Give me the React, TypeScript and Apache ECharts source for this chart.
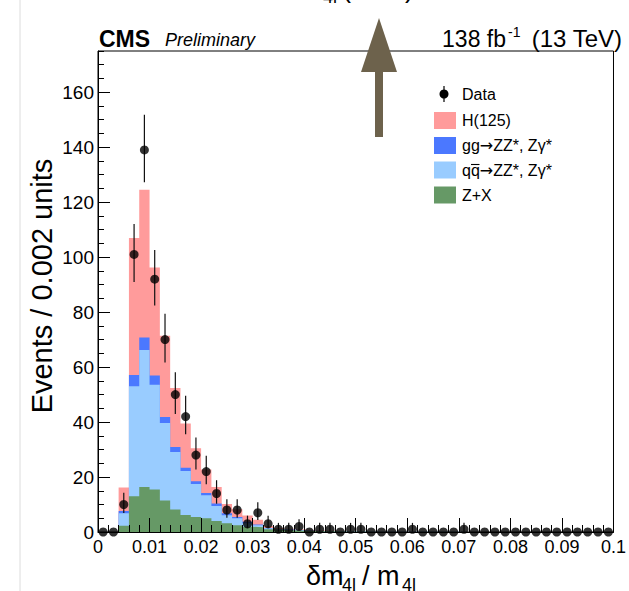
import React, { useEffect, useRef } from 'react';
import * as echarts from 'echarts';

// ---------------- data ----------------
const binWidth = 0.002;
const xTickLabels = ['0', '0.01', '0.02', '0.03', '0.04', '0.05', '0.06', '0.07', '0.08', '0.09', '0.1'];
const yTickLabels = ['0', '20', '40', '60', '80', '100', '120', '140', '160'];

// observed events per bin (bins of 0.002 from 0 to 0.1)
const dataCounts = [
  0, 0, 10, 101, 139, 92, 70, 50, 42, 28,
  22, 14, 8, 8, 3, 7, 3, 1, 1, 2,
  0, 1, 1, 0, 1, 1, 0, 0, 0, 0,
  1, 0, 0, 0, 0, 1, 0, 0, 0, 0,
  0, 0, 0, 0, 0, 0, 0, 0, 0, 0,
];
// Z+X
const zxYield = [
  0, 0, 2.3, 13.0, 16.4, 15.5, 11.5, 8.2, 6.2, 5.5,
  5.0, 4.0, 3.2, 2.5, 1.9, 1.7, 1.0, 0.8, 0.6, 0.5,
  0.4, 0.3, 0.3, 0.2, 0.2, 0.15, 0.1, 0.1, 0.1, 0.1,
  0.05, 0.05, 0.05, 0.05, 0.05, 0, 0, 0, 0, 0,
  0, 0, 0, 0, 0, 0, 0, 0, 0, 0,
];
// qq -> ZZ*, Zgamma*
const qqzzYield = [
  0, 0, 4.5, 40.0, 49.8, 38.1, 28.2, 20.9, 16.0, 12.0,
  8.4, 5.5, 2.9, 2.5, 1.3, 0.8, 0.4, 0.2, 0.2, 0.1,
  0.1, 0.1, 0.05, 0.05, 0, 0, 0, 0, 0, 0,
  0, 0, 0, 0, 0, 0, 0, 0, 0, 0,
  0, 0, 0, 0, 0, 0, 0, 0, 0, 0,
];
// gg -> ZZ*, Zgamma*
const ggzzYield = [
  0, 0, 0.8, 4.1, 4.6, 3.3, 2.1, 1.8, 1.2, 1.0,
  0.8, 0.9, 0.7, 0.5, 0.5, 0.2, 0.1, 0.1, 0.1, 0.05,
  0, 0, 0, 0, 0, 0, 0, 0, 0, 0,
  0, 0, 0, 0, 0, 0, 0, 0, 0, 0,
  0, 0, 0, 0, 0, 0, 0, 0, 0, 0,
];
// H(125)
const higgsYield = [
  0, 0, 8.6, 49.9, 53.7, 39.3, 29.6, 21.5, 16.1, 12.0,
  8.5, 6.0, 3.4, 2.8, 2.3, 1.8, 0.7, 0.4, 0.3, 0.25,
  0.2, 0.15, 0.1, 0.08, 0.05, 0, 0, 0, 0, 0,
  0, 0, 0, 0, 0, 0, 0, 0, 0, 0,
  0, 0, 0, 0, 0, 0, 0, 0, 0, 0,
];

// ---------------- helpers ----------------
const FONT = '"Liberation Sans", Arial, Helvetica, sans-serif';
const COLORS = { h: '#ff9b9b', gg: '#4b78ff', qq: '#99ccff', zx: '#669966' };

const cumulate = (...arrs: number[][]) =>
  arrs[0].map((_, i) => arrs.reduce((s, a) => s + a[i], 0));

const cumZX = cumulate(zxYield);
const cumQQ = cumulate(zxYield, qqzzYield);
const cumGG = cumulate(zxYield, qqzzYield, ggzzYield);
const cumTot = cumulate(zxYield, qqzzYield, ggzzYield, higgsYield);

const stepData = (cum: number[]) => {
  const pts: number[][] = [];
  for (let i = 0; i <= cum.length; i++) {
    pts.push([i * binWidth, cum[Math.min(i, cum.length - 1)]]);
  }
  return pts;
};

const stackSeries = (name: string, cum: number[], color: string) => ({
  name,
  type: 'line',
  step: 'end',
  data: stepData(cum),
  symbol: 'none',
  lineStyle: { width: 0, opacity: 0 },
  areaStyle: { color, opacity: 1 },
  z: 2,
  silent: true,
});

const pointData = dataCounts.map((n, i) => [(i + 0.5) * binWidth, n]);
const errData = dataCounts.map((n, i) => {
  const lo = n > 0 ? n - Math.sqrt(n - 0.25) : 0;
  const hi = n > 0 ? n + 1 + Math.sqrt(n + 0.75) : 0;
  return [(i + 0.5) * binWidth, lo, hi];
});

const text = (
  t: string,
  x: number,
  y: number,
  size: number,
  opts: { align?: string; bold?: boolean; italic?: boolean; rotation?: number; rich?: any } = {}
) => ({
  type: 'text',
  x,
  y,
  rotation: opts.rotation || 0,
  z: 50,
  silent: true,
  style: {
    text: t,
    fill: '#000',
    fontSize: size,
    fontFamily: FONT,
    fontWeight: opts.bold ? 'bold' : 'normal',
    fontStyle: opts.italic ? 'italic' : 'normal',
    align: opts.align || 'left',
    textAlign: opts.align || 'left',
    verticalAlign: 'middle',
    textVerticalAlign: 'middle',
    ...(opts.rich ? { rich: opts.rich } : {}),
  },
});

const rect = (x: number, y: number, w: number, h: number, color: string) => ({
  type: 'rect',
  shape: { x, y, width: w, height: h },
  style: { fill: color },
  z: 50,
  silent: true,
});

const line = (x1: number, y1: number, x2: number, y2: number, color: string, w: number) => ({
  type: 'line',
  shape: { x1, y1, x2, y2 },
  style: { stroke: color, lineWidth: w },
  z: 50,
  silent: true,
});

const arrowRich = {
  a: { fontFamily: '"DejaVu Sans", sans-serif', fontSize: 16, fill: '#000', color: '#000' },
};

export default function App() {
  const ref = useRef<HTMLDivElement>(null);

  useEffect(() => {
    if (!ref.current) return;
    const chart = echarts.init(ref.current, undefined, { renderer: 'svg' });

    const option: any = {
      animation: false,
      backgroundColor: '#ffffff',
      grid: {
        left: 98,
        right: 9.5,
        top: 51,
        bottom: 59,
        show: true,
        borderColor: '#000',
        borderWidth: 1,
        backgroundColor: 'transparent',
      },
      xAxis: {
        type: 'value',
        min: 0,
        max: 0.1,
        interval: 0.01,
        z: 3,
        axisLine: { show: true, onZero: false, lineStyle: { color: '#000', width: 1 } },
        axisTick: { show: true, inside: true, length: 14, lineStyle: { color: '#000', width: 1 } },
        minorTick: { show: true, splitNumber: 5, length: 7, lineStyle: { color: '#000', width: 1 } },
        axisLabel: {
          margin: 6,
          fontSize: 18,
          fontFamily: FONT,
          color: '#000',
          formatter: (v: number) => xTickLabels[Math.round(v / 0.01)] ?? '',
        },
        splitLine: { show: false },
        minorSplitLine: { show: false },
      },
      yAxis: [
        {
          type: 'value',
          min: 0,
          max: 175,
          interval: 20,
          position: 'left',
          z: 3,
          axisLine: { show: true, onZero: false, lineStyle: { color: '#000', width: 1 } },
          axisTick: { show: true, inside: true, length: 12, lineStyle: { color: '#000', width: 1 } },
          axisLabel: {
            margin: 4,
            fontSize: 19,
            fontFamily: FONT,
            color: '#000',
            showMaxLabel: false,
            formatter: (v: number) => yTickLabels[Math.round(v / 20)] ?? '',
          },
          splitLine: { show: false },
        },
        {
          type: 'value',
          min: 0,
          max: 175,
          interval: 5,
          position: 'left',
          z: 3,
          axisLine: { show: false },
          axisTick: { show: true, inside: true, length: 6, lineStyle: { color: '#000', width: 1 } },
          axisLabel: { show: false },
          splitLine: { show: false },
        },
      ],
      series: [
        stackSeries('H(125)', cumTot, COLORS.h),
        stackSeries('gg→ZZ*, Zγ*', cumGG, COLORS.gg),
        stackSeries('qq→ZZ*, Zγ*', cumQQ, COLORS.qq),
        stackSeries('Z+X', cumZX, COLORS.zx),
        {
          name: 'Data errors',
          type: 'custom',
          data: errData,
          encode: { x: 0, y: [1, 2] },
          z: 9,
          silent: true,
          clip: false,
          renderItem: (params: any, api: any) => {
            const x = api.value(0);
            const lo = api.value(1);
            const hi = api.value(2);
            if (!(hi > lo)) return null;
            const p1 = api.coord([x, lo]);
            const p2 = api.coord([x, hi]);
            return {
              type: 'line',
              shape: { x1: p1[0], y1: p1[1], x2: p2[0], y2: p2[1] },
              style: { stroke: '#111', lineWidth: 1.2 },
            };
          },
        },
        {
          name: 'Data',
          type: 'scatter',
          data: pointData,
          symbol: 'circle',
          symbolSize: 9,
          itemStyle: { color: '#000' },
          z: 10,
          clip: false,
          silent: true,
        },
      ],
      graphic: [
        // faint border at left of the image
        line(20, 0, 20, 591, '#dcdcdc', 1),
        // header texts
        text('CMS', 99, 38.5, 23, { bold: true }),
        text('Preliminary', 165, 40, 18, { italic: true }),
        text('138 fb', 506, 38.6, 23, { align: 'right' }),
        text('-1', 508, 31.5, 14),
        text('(13 TeV)', 622, 38.6, 24, { align: 'right' }),
        // clipped label at the very top
        text('m', 300, -12.5, 27),
        text('4l', 323, -3.3, 18),
        text('(GeV)', 342, -12.5, 27),
        // arrow
        {
          type: 'polygon',
          shape: {
            points: [
              [379, 18],
              [397, 72],
              [383, 72],
              [383, 137],
              [375, 137],
              [375, 72],
              [361, 72],
            ],
          },
          style: { fill: '#6d624c' },
          z: 60,
          silent: true,
        },
        // y axis title
        text('Events / 0.002 units', 42, 286, 29, { align: 'center', rotation: Math.PI / 2 }),
        // x axis title
        text('δm', 306, 575.5, 27),
        text('4l', 342, 584.5, 18),
        text('/ m', 362, 575.5, 27),
        text('4l', 402, 584.5, 18),
        // legend
        line(444, 86, 444, 102, '#000', 1.2),
        { type: 'circle', shape: { cx: 444, cy: 94, r: 4.5 }, style: { fill: '#000' }, z: 50, silent: true },
        text('Data', 462, 94, 16),
        rect(434, 112, 22, 17, COLORS.h),
        text('H(125)', 462, 120.5, 16),
        rect(434, 137, 22, 17, COLORS.gg),
        text('gg{a|→}ZZ*, Zγ*', 462, 145.5, 16, { rich: arrowRich }),
        rect(434, 161.5, 22, 17, COLORS.qq),
        text('qq{a|→}ZZ*, Zγ*', 462, 170, 16, { rich: arrowRich }),
        line(471, 164.5, 479.5, 164.5, '#000', 1.1),
        rect(434, 186.5, 22, 17, COLORS.zx),
        text('Z+X', 462, 195, 16),
      ],
    };

    chart.setOption(option);
    return () => chart.dispose();
  }, []);

  return (
    <div
      ref={ref}
      style={{ position: 'absolute', left: 0, top: 0, width: 629, height: 591, background: '#fff' }}
    />
  );
}
